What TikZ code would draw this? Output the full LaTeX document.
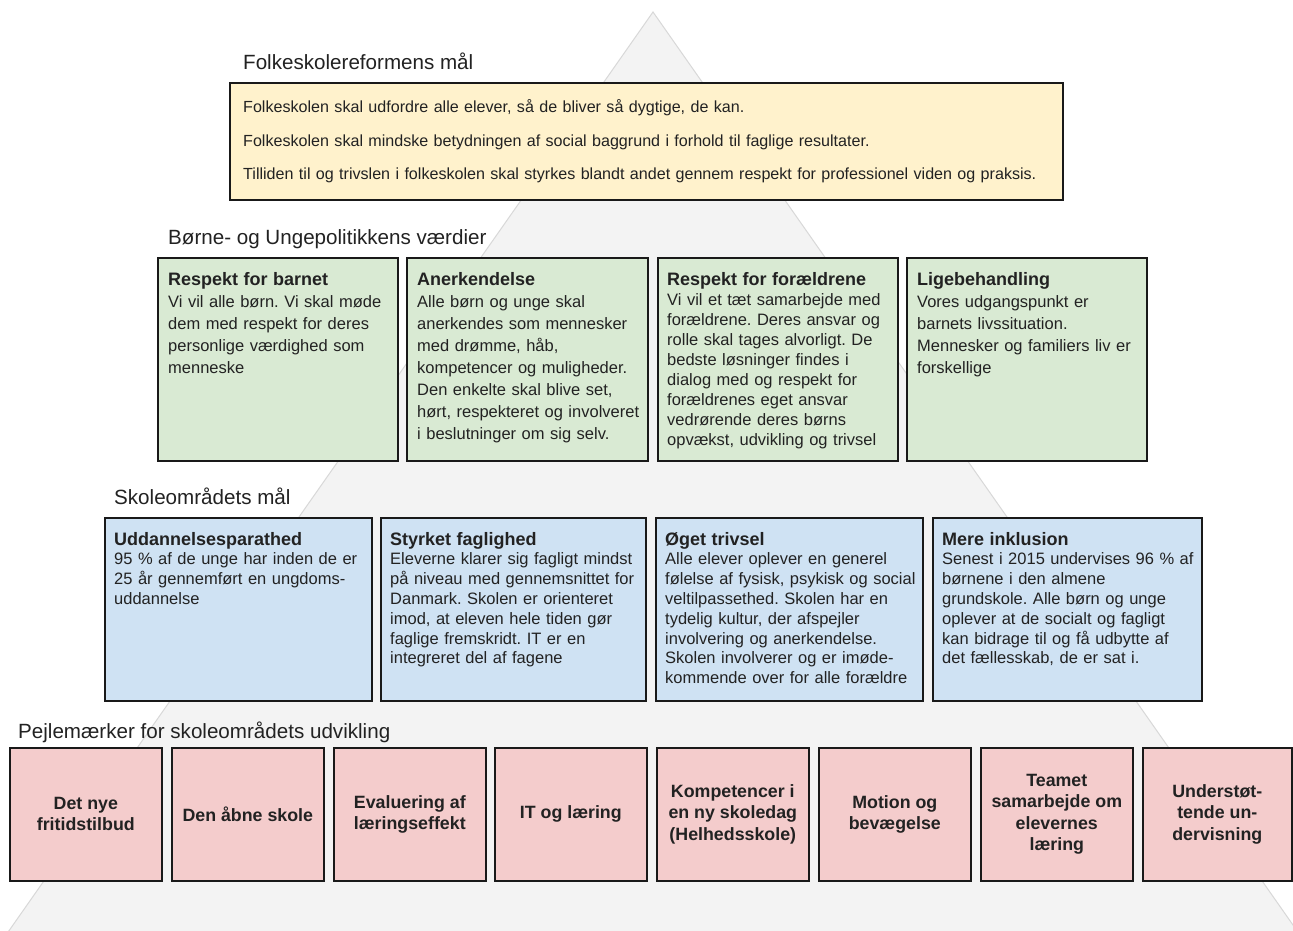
\documentclass[tikz,border=0pt]{standalone}
\usepackage{fontspec}
\setmainfont{Liberation Sans}
\usetikzlibrary{shadows}
\frenchspacing

\definecolor{pyramide}{HTML}{F3F3F3}
\definecolor{pyramidekant}{HTML}{D8D8D8}
\definecolor{gul}{HTML}{FFF2CC}
\definecolor{groen}{HTML}{D9EAD3}
\definecolor{blaa}{HTML}{CFE2F3}
\definecolor{roed}{HTML}{F4CCCC}
\definecolor{skrift}{HTML}{222222}

\tikzset{
    boks/.style={draw=black!90, line width=1.6pt, anchor=north west, inner sep=0pt,
        drop shadow={shadow xshift=0.7pt, shadow yshift=-1.2pt, fill=black!45, opacity=0.5}},
    maalboks/.style={boks, fill=gul, minimum width=833, minimum height=117},
    vaerdiboks/.style={boks, fill=groen, minimum width=240, minimum height=203},
    skoleboks/.style={boks, fill=blaa, minimum height=183},
    pejlboks/.style={boks, fill=roed, minimum width=152, minimum height=133, align=center,
        text=skrift, font=\fontsize{17.8}{21.3}\selectfont\bfseries},
    overskrift/.style={anchor=base west, inner sep=0pt, text=skrift, font=\fontsize{20.6}{24}\selectfont},
    tekst/.style={anchor=base west, inner sep=0pt, align=left, text width=260, text=skrift,
        font=\fontsize{16.5}{22}\selectfont},
}
\newcommand{\bokstitel}[1]{{\fontsize{18}{22}\selectfont\bfseries #1}}

\begin{document}
\begin{tikzpicture}[x=1pt, y=-1pt]
        \useasboundingbox (0,0) rectangle (1293,931);
        \fill[white] (0,0) rectangle (1293,931);
        % pyramiden bagved
        \filldraw[fill=pyramide, draw=pyramidekant, line width=1pt] (653,12) -- (1307,945) -- (-1,945) -- cycle;

        % Folkeskolereformens mål
        \node[overskrift] (maal-titel) at (243,70) {Folkeskolereformens mål};
        \node[maalboks] (maal) at (229,82) {};
        \node[tekst, text width=820, font=\fontsize{16.1}{33.5}\selectfont] (maal-tekst) at (243,113)
            {Folkeskolen skal udfordre alle elever, så de bliver så dygtige, de kan.\\
             Folkeskolen skal mindske betydningen af social baggrund i forhold til faglige resultater.\\
             Tilliden til og trivslen i folkeskolen skal styrkes blandt andet gennem respekt for professionel viden og praksis.};

        % Børne- og Ungepolitikkens værdier
        \node[overskrift] (vaerdi-titel) at (168,244) {Børne- og Ungepolitikkens værdier};
        \node[vaerdiboks] (respekt) at (157,257) {};
        \node[vaerdiboks, minimum width=241] (anerkend) at (406,257) {};
        \node[vaerdiboks] (foraeldre) at (657,257) {};
        \node[vaerdiboks] (ligebeh) at (906,257) {};
        \node[tekst] (respekt-tekst) at (168,285)
            {\bokstitel{Respekt for barnet}\\Vi vil alle børn. Vi skal møde\\dem med respekt for deres\\personlige værdighed som\\menneske};
        \node[tekst] (anerkend-tekst) at (417,285)
            {\bokstitel{Anerkendelse}\\Alle børn og unge skal\\anerkendes som mennesker\\med drømme, håb,\\kompetencer og muligheder.\\Den enkelte skal blive set,\\hørt, respekteret og involveret\\i beslutninger om sig selv.};
        \node[tekst, font=\fontsize{16.5}{20}\selectfont] (foraeldre-tekst) at (667,285)
            {\bokstitel{Respekt for forældrene}\\Vi vil et tæt samarbejde med\\forældrene. Deres ansvar og\\rolle skal tages alvorligt. De\\bedste løsninger findes i\\dialog med og respekt for\\forældrenes eget ansvar\\vedrørende deres børns\\opvækst, udvikling og trivsel};
        \node[tekst] (ligebeh-tekst) at (917,285)
            {\bokstitel{Ligebehandling}\\Vores udgangspunkt er\\barnets livssituation.\\Mennesker og familiers liv er\\forskellige};

        % Skoleområdets mål
        \node[overskrift] (skole-titel) at (114,504) {Skoleområdets mål};
        \node[skoleboks, minimum width=267] (uddan) at (104,517) {};
        \node[skoleboks, minimum width=265] (faglig) at (380,517) {};
        \node[skoleboks, minimum width=267] (trivsel) at (655,517) {};
        \node[skoleboks, minimum width=269] (inklusion) at (932,517) {};
        \node[tekst, font=\fontsize{16.5}{19.8}\selectfont] (uddan-tekst) at (114,545)
            {\bokstitel{Uddannelsesparathed}\\95 \% af de unge har inden de er\\25 år gennemført en ungdoms-\\uddannelse};
        \node[tekst, font=\fontsize{16.5}{19.8}\selectfont] (faglig-tekst) at (390,545)
            {\bokstitel{Styrket faglighed}\\Eleverne klarer sig fagligt mindst\\på niveau med gennemsnittet for\\Danmark. Skolen er orienteret\\imod, at eleven hele tiden gør\\faglige fremskridt. IT er en\\integreret del af fagene};
        \node[tekst, font=\fontsize{16.5}{19.8}\selectfont] (trivsel-tekst) at (665,545)
            {\bokstitel{Øget trivsel}\\Alle elever oplever en generel\\følelse af fysisk, psykisk og social\\veltilpassethed. Skolen har en\\tydelig kultur, der afspejler\\involvering og anerkendelse.\\Skolen involverer og er imøde-\\kommende over for alle forældre};
        \node[tekst, font=\fontsize{16.5}{19.8}\selectfont] (inklusion-tekst) at (942,545)
            {\bokstitel{Mere inklusion}\\Senest i 2015 undervises 96 \% af\\børnene i den almene\\grundskole. Alle børn og unge\\oplever at de socialt og fagligt\\kan bidrage til og få udbytte af\\det fællesskab, de er sat i.};

        % Pejlemærker
        \node[overskrift] (pejl-titel) at (18,738) {Pejlemærker for skoleområdets udvikling};
        \node[pejlboks] (fritid) at (9,747) {Det nye\\fritidstilbud};
        \node[pejlboks] (aaben) at (171,747) {Den åbne skole};
        \node[pejlboks] (evaluering) at (333,747) {Evaluering af\\læringseffekt};
        \node[pejlboks] (itlaer) at (494,747) {IT og læring};
        \node[pejlboks] (kompetence) at (656,747) {Kompetencer i\\en ny skoledag\\(Helhedsskole)};
        \node[pejlboks] (motion) at (818,747) {Motion og\\bevægelse};
        \node[pejlboks] (teamet) at (980,747) {Teamet\\samarbejde om\\elevernes\\læring};
        \node[pejlboks, minimum width=149] (understoet) at (1142,747) {Understøt-\\tende un-\\dervisning};
    \end{tikzpicture}
\end{document}
